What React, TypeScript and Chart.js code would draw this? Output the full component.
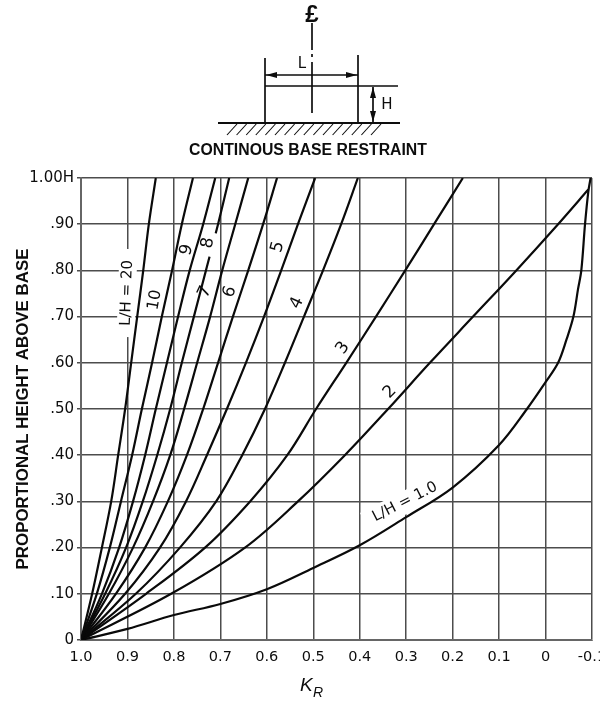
import React, { useEffect, useRef } from "react";
import { Chart, registerables } from "chart.js";

Chart.register(...registerables);

const heightLevels = [0, 0.1, 0.2, 0.3, 0.4, 0.5, 0.6, 0.7, 0.8, 0.9, 1.0];

const krLH20 = [1, 0.976, 0.955, 0.935, 0.92, 0.905, 0.892, 0.879, 0.866, 0.854, 0.839];
const krLH10 = [1, 0.966, 0.938, 0.914, 0.89, 0.869, 0.847, 0.826, 0.804, 0.783, 0.759];
const krLH9 = [1, 0.955, 0.918, 0.888, 0.862, 0.839, 0.815, 0.791, 0.766, 0.737, 0.711];
const krLH8 = [1, 0.948, 0.903, 0.867, 0.836, 0.808, 0.783, 0.757, 0.731, 0.705, 0.681];
const krLH7 = [1, 0.94, 0.888, 0.845, 0.808, 0.778, 0.75, 0.722, 0.696, 0.668, 0.64];
const krLH6 = [1, 0.925, 0.862, 0.813, 0.772, 0.737, 0.705, 0.673, 0.64, 0.608, 0.578];
const krLH5 = [1, 0.905, 0.83, 0.774, 0.729, 0.686, 0.645, 0.606, 0.569, 0.533, 0.496];
const krLH4 = [1, 0.882, 0.787, 0.709, 0.653, 0.604, 0.561, 0.52, 0.479, 0.44, 0.404];
const krLH3 = [1, 0.86, 0.733, 0.636, 0.556, 0.494, 0.429, 0.365, 0.302, 0.24, 0.178];

const krLH2 = [1, 0.806, 0.647, 0.533, 0.432, 0.339, 0.249, 0.156, 0.063, -0.027, -0.092];
const heightLH2 = [0, 0.1, 0.2, 0.3, 0.4, 0.5, 0.6, 0.7, 0.8, 0.9, 0.975];

const krLH1 = [1, 0.9, 0.8, 0.7, 0.6, 0.5, 0.4, 0.3, 0.2, 0.1, 0.04, 0, -0.027, -0.045, -0.06, -0.07, -0.077, -0.085, -0.092, -0.097];
const heightLH1 = [0, 0.024, 0.054, 0.078, 0.11, 0.156, 0.205, 0.266, 0.33, 0.422, 0.5, 0.558, 0.6, 0.65, 0.7, 0.76, 0.8, 0.9, 0.97, 1.0];

const xTickLabels = ["-0.1", "0", "0.1", "0.2", "0.3", "0.4", "0.5", "0.6", "0.7", "0.8", "0.9", "1.0"];
const yTickLabels = ["0", ".10", ".20", ".30", ".40", ".50", ".60", ".70", ".80", ".90", "1.00H"];

const yTitle = "PROPORTIONAL HEIGHT ABOVE BASE";
const caption = "CONTINOUS BASE RESTRAINT";

const pairs = (xs: number[], ys: number[]) => xs.map((x, i) => ({ x, y: ys[i] }));

const curveSeries = [
  { label: "L/H=20", data: pairs(krLH20, heightLevels) },
  { label: "10", data: pairs(krLH10, heightLevels) },
  { label: "9", data: pairs(krLH9, heightLevels) },
  { label: "8", data: pairs(krLH8, heightLevels) },
  { label: "7", data: pairs(krLH7, heightLevels) },
  { label: "6", data: pairs(krLH6, heightLevels) },
  { label: "5", data: pairs(krLH5, heightLevels) },
  { label: "4", data: pairs(krLH4, heightLevels) },
  { label: "3", data: pairs(krLH3, heightLevels) },
  { label: "2", data: pairs(krLH2, heightLH2) },
  { label: "L/H=1.0", data: pairs(krLH1, heightLH1) },
];

const FONT = '"DejaVu Sans"';
const INK = "#0d0d0d";

// centre x, centre y, rotation, gap width, gap height
const gridGaps: [number, number, number, number, number][] = [
  [127, 293, -88, 88, 18],
  [406, 502, -27, 92, 22],
];
// text, centre x, centre y, rotation, font size
const curveLabels: [string, number, number, number, number][] = [
  ["L/H = 20", 127, 293, -88, 15],
  ["10", 155, 300, -80, 16],
  ["9", 187, 250, -75, 17],
  ["8", 208, 243, -80, 17],
  ["7", 205, 292, -65, 17],
  ["6", 230, 292, -70, 17],
  ["5", 278, 247, -75, 17],
  ["4", 297, 303, -65, 17],
  ["3", 343, 348, -55, 17],
  ["2", 390, 392, -45, 17],
  ["L/H = 1.0", 405, 502, -27, 15],
];

const gapPlugin = {
  id: "gridGaps",
  beforeDatasetsDraw(chart: any) {
    const ctx = chart.ctx;
    ctx.save();
    ctx.fillStyle = "#fff";
    gridGaps.forEach(([x, y, r, w, h]) => {
      ctx.save();
      ctx.translate(x, y);
      ctx.rotate((r * Math.PI) / 180);
      ctx.fillRect(-w / 2, -h / 2, w, h);
      ctx.restore();
    });
    ctx.restore();
  },
};

const annotationPlugin = {
  id: "annotations",
  afterDraw(chart: any) {
    const ctx = chart.ctx;
    ctx.save();

    // gap in the L/H = 8 curve around its label
    ctx.fillStyle = "#fff";
    ctx.save();
    ctx.translate(209, 244);
    ctx.rotate((-75 * Math.PI) / 180);
    ctx.fillRect(-12, -7, 24, 14);
    ctx.restore();

    ctx.fillStyle = INK;
    ctx.textAlign = "center";
    ctx.textBaseline = "middle";
    curveLabels.forEach(([t, x, y, r, s]) => {
      ctx.save();
      ctx.translate(x, y);
      ctx.rotate((r * Math.PI) / 180);
      ctx.font = `${s}px ${FONT}`;
      ctx.fillText(t, 0, 0);
      ctx.restore();
    });

    // x axis title with its subscript
    ctx.textAlign = "left";
    ctx.textBaseline = "alphabetic";
    ctx.font = 'italic 19px "Liberation Sans"';
    ctx.fillText("K", 300, 691);
    ctx.font = 'italic 14px "Liberation Sans"';
    ctx.fillText("R", 313, 697);

    // restraint diagram
    ctx.strokeStyle = INK;
    ctx.lineWidth = 1.7;
    const line = (a: number, b: number, c: number, d: number) => {
      ctx.beginPath();
      ctx.moveTo(a, b);
      ctx.lineTo(c, d);
      ctx.stroke();
    };
    line(312, 23, 312, 50);
    line(312, 54, 312, 57);
    line(312, 62, 312, 113);
    line(265, 58, 265, 123);
    line(358, 55, 358, 123);
    line(265, 75, 358, 75);
    line(265, 86, 358, 86);
    line(358, 86, 398, 86);
    line(373, 87, 373, 122);
    ctx.lineWidth = 2;
    line(218, 123, 400, 123);
    ctx.lineWidth = 1.1;
    for (let b = 227; b <= 372; b += 9.6) line(b, 135, b + 10, 124);

    const arrow = (x: number, y: number, dx: number, dy: number) => {
      ctx.beginPath();
      ctx.moveTo(x, y);
      ctx.lineTo(x + dx * 11 + dy * 3, y + dy * 11 + dx * 3);
      ctx.lineTo(x + dx * 11 - dy * 3, y + dy * 11 - dx * 3);
      ctx.closePath();
      ctx.fill();
    };
    arrow(266, 75, 1, 0);
    arrow(357, 75, -1, 0);
    arrow(373, 87, 0, 1);
    arrow(373, 122, 0, -1);

    ctx.textAlign = "center";
    ctx.textBaseline = "middle";
    ctx.font = `15px ${FONT}`;
    ctx.fillText("L", 302, 64);
    ctx.fillText("H", 387, 105);
    ctx.font = `bold 24px "Liberation Sans"`;
    ctx.fillText("\u00a3", 312, 15);
    ctx.font = 'bold 15.8px "Liberation Sans"';
    ctx.fillText(caption, 308, 151);
    ctx.restore();
  },
};

export default function App() {
  const ref = useRef<HTMLCanvasElement | null>(null);
  useEffect(() => {
    const chart = new Chart(ref.current as HTMLCanvasElement, {
      type: "line",
      data: {
        datasets: curveSeries.map((s) => ({
          label: s.label,
          data: s.data,
          borderColor: "#0a0a0a",
          borderWidth: 2.2,
          pointRadius: 0,
          tension: 0.35,
          fill: false,
        })),
      },
      options: {
        responsive: false,
        animation: false,
        parsing: false as any,
        layout: { padding: { top: 178, right: 8, left: 0, bottom: 0 } },
        plugins: { legend: { display: false }, tooltip: { enabled: false } },
        scales: {
          x: {
            type: "linear",
            reverse: true,
            min: -0.1,
            max: 1.0,
            afterFit: (s: any) => {
              s.height = 62;
              s.paddingLeft = 0;
              s.paddingRight = 0;
            },
            ticks: {
              stepSize: 0.1,
              maxRotation: 0,
              autoSkip: false,
              padding: 9,
              color: INK,
              font: { family: "DejaVu Sans", size: 14.5 },
              callback: (v: any) => xTickLabels[Math.round((Number(v) + 0.1) * 10)],
            },
            grid: { color: "#4d4d4d", lineWidth: 1.5, tickLength: 0 },
            border: { color: "#666", width: 2 },
          },
          y: {
            type: "linear",
            min: 0,
            max: 1.0,
            afterFit: (s: any) => {
              s.width = 81;
            },
            title: {
              display: true,
              text: yTitle,
              color: INK,
              font: { family: "Liberation Sans", size: 16.9, weight: "bold" },
              padding: { top: 13, bottom: 0 },
            },
            ticks: {
              stepSize: 0.1,
              autoSkip: false,
              padding: 3,
              color: INK,
              font: { family: "DejaVu Sans", size: 15 },
              callback: (v: any) => yTickLabels[Math.round(Number(v) * 10)],
            },
            grid: { color: "#4d4d4d", lineWidth: 1.5, tickLength: 4 },
            border: { color: "#666", width: 2 },
          },
        },
      },
      plugins: [gapPlugin, annotationPlugin],
    } as any);
    return () => chart.destroy();
  }, []);
  return (
    <div style={{ position: "fixed", left: 0, top: 0, width: 600, height: 702, background: "#fff" }}>
      <canvas ref={ref} width={600} height={702} style={{ display: "block" }} />
    </div>
  );
}
